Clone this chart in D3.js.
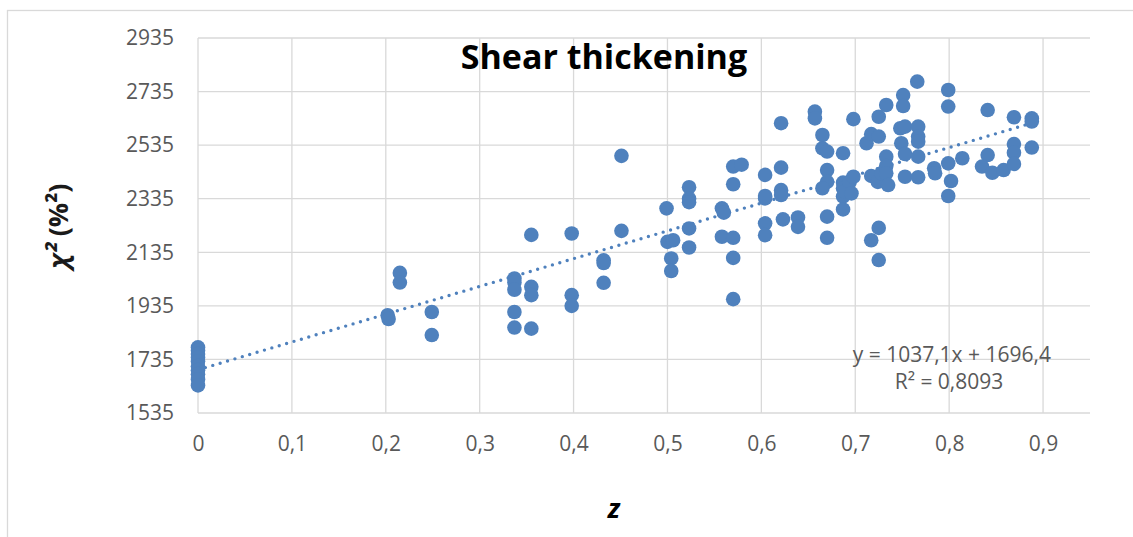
<!DOCTYPE html>
<html>
<head>
<meta charset="utf-8">
<script src="https://cdn.jsdelivr.net/npm/d3@7"></script>
<style>
  body { margin: 0; background: #fff; }
  text { font-family: "Open Sans", sans-serif; }
</style>
</head>
<body>
<div id="chart"></div>
<script>
// Shear thickening: chi2 versus z, with linear trendline

var zValues = [
  0, 0, 0, 0, 0, 0, 0, 0, 0, 0,
  0.202, 0.203, 0.215, 0.215, 0.249, 0.249,
  0.337, 0.337, 0.337, 0.337, 0.337,
  0.355, 0.355, 0.355, 0.355,
  0.398, 0.398, 0.398,
  0.432, 0.432, 0.432,
  0.451, 0.451,
  0.499, 0.500, 0.506, 0.504, 0.504,
  0.523, 0.523, 0.523, 0.523, 0.523,
  0.558, 0.560, 0.558,
  0.570, 0.570, 0.579, 0.570, 0.570, 0.570,
  0.604, 0.604, 0.604, 0.604, 0.604,
  0.621, 0.621, 0.621, 0.621, 0.623,
  0.639, 0.639,
  0.657, 0.657,
  0.665, 0.665, 0.670, 0.670, 0.670, 0.665, 0.670, 0.670,
  0.687, 0.687, 0.687, 0.687, 0.689, 0.687,
  0.694, 0.698, 0.696, 0.698,
  0.712, 0.717, 0.725, 0.725, 0.733,
  0.717, 0.724, 0.728,
  0.733, 0.733, 0.733, 0.735,
  0.717, 0.725, 0.725,
  0.751, 0.751, 0.766,
  0.748, 0.753, 0.767,
  0.749, 0.767, 0.767,
  0.753, 0.767,
  0.753, 0.767,
  0.799, 0.799,
  0.784, 0.785,
  0.799, 0.802, 0.799,
  0.814,
  0.841, 0.841, 0.835, 0.846,
  0.858,
  0.869, 0.869, 0.869, 0.869,
  0.888, 0.888, 0.888
]

var chiValues = [
  1780, 1768, 1755, 1742, 1728, 1710, 1695, 1680, 1660, 1638,
  1900, 1886, 2058, 2022, 1912, 1826,
  2037, 2022, 1995, 1912, 1854,
  2200, 2006, 1975, 1850,
  2205, 1975, 1935,
  2105, 2095, 2021,
  2495, 2215,
  2299, 2174, 2180, 2112, 2065,
  2378, 2335, 2322, 2224, 2153,
  2299, 2283, 2193,
  2189, 2455, 2462, 2389, 2114, 1960,
  2424, 2336, 2345, 2243, 2199,
  2617, 2451, 2367, 2349, 2258,
  2265, 2230,
  2660, 2635,
  2573, 2523, 2511, 2442, 2398, 2374, 2268, 2189,
  2505, 2395, 2374, 2343, 2361, 2295,
  2398, 2417, 2355, 2632,
  2542, 2576, 2641, 2567, 2685,
  2420, 2398, 2430,
  2492, 2457, 2430, 2386,
  2180, 2226, 2106,
  2722, 2681, 2772,
  2598, 2604, 2604,
  2542, 2567, 2548,
  2502, 2492,
  2417, 2415,
  2741, 2679,
  2449, 2430,
  2467, 2401, 2345,
  2486,
  2666, 2498, 2455, 2432,
  2442,
  2639, 2539, 2507, 2465,
  2635, 2623, 2526
]

var xTicks = [0, 0.1, 0.2, 0.3, 0.4, 0.5, 0.6, 0.7, 0.8, 0.9]
var yTicks = [1535, 1735, 1935, 2135, 2335, 2535, 2735, 2935]

// trendline from the chart: y = 1037,1x + 1696,4
var trendSlope = 1037.1
var trendIntercept = 1696.4
var trendR2 = 0.8093

var width = 1133, height = 537
var margin = {left: 198, right: 43, top: 38, bottom: 124}
var blue = "#4f81bd"
var grid = "#d9d9d9"
var grey = "#595959"

var locale = d3.formatLocale({decimal: ",", thousands: ".", grouping: [3], currency: ["", ""]})
var fmt = function(v) { return String(v).replace(".", ",") }

var svg = d3.select("#chart")
  .append("svg")
    .attr("width", width)
    .attr("height", height)

// chart border
svg.append("rect")
  .attr("x", 7.5).attr("y", 10.5)
  .attr("width", width + 20).attr("height", height + 20)
  .attr("fill", "#fff").attr("stroke", grid).attr("stroke-width", 1.3)

var x = d3.scaleLinear()
  .domain([0, 0.95])
  .range([margin.left, width - margin.right])

var y = d3.scaleLinear()
  .domain([1535, 2935])
  .range([height - margin.bottom, margin.top])

// horizontal gridlines
svg.append("g")
  .selectAll("line")
  .data(yTicks)
  .enter().append("line")
    .attr("x1", x(0)).attr("x2", x(0.95))
    .attr("y1", function(d) { return y(d) }).attr("y2", function(d) { return y(d) })
    .attr("stroke", grid).attr("stroke-width", 1.3)

// vertical gridlines
svg.append("g")
  .selectAll("line")
  .data(xTicks)
  .enter().append("line")
    .attr("x1", function(d) { return x(d) }).attr("x2", function(d) { return x(d) })
    .attr("y1", y(2935)).attr("y2", y(1535))
    .attr("stroke", grid).attr("stroke-width", 1.3)

// axes (labels only, lines are the gridlines)
var xAxis = svg.append("g")
  .attr("transform", "translate(0," + y(1535) + ")")
  .call(d3.axisBottom(x).tickValues(xTicks).tickSize(0).tickPadding(23)
    .tickFormat(function(d) { return d === 0 ? "0" : locale.format(".1f")(d) }))
xAxis.select(".domain").remove()
xAxis.selectAll("text")
  .style("font-family", "'Open Sans', sans-serif").style("font-size", "21px").attr("fill", grey)

var yAxis = svg.append("g")
  .attr("transform", "translate(" + x(0) + ",0)")
  .call(d3.axisLeft(y).tickValues(yTicks).tickSize(0).tickPadding(24).tickFormat(d3.format("d")))
yAxis.select(".domain").remove()
yAxis.selectAll("text")
  .style("font-family", "'Open Sans', sans-serif").style("font-size", "21px").attr("fill", grey)

// trendline
svg.append("line")
  .attr("x1", x(0)).attr("y1", y(trendIntercept))
  .attr("x2", x(d3.max(zValues))).attr("y2", y(trendIntercept + trendSlope * d3.max(zValues)))
  .attr("stroke", blue).attr("stroke-width", 3.4)
  .attr("stroke-linecap", "round").attr("stroke-dasharray", "0 7.7")

// points
svg.append("g")
  .selectAll("circle")
  .data(d3.range(zValues.length))
  .enter().append("circle")
    .attr("cx", function(i) { return x(zValues[i]) })
    .attr("cy", function(i) { return y(chiValues[i]) })
    .attr("r", 7.3)
    .style("fill", blue)

// title
svg.append("text")
  .attr("x", 604).attr("y", 69)
  .attr("text-anchor", "middle")
  .style("font-size", "34px").style("font-weight", "bold").attr("fill", "#000")
  .text("Shear thickening")

// axis titles
svg.append("text")
  .attr("x", 614).attr("y", 518)
  .attr("text-anchor", "middle")
  .style("font-size", "27px").style("font-weight", "bold").style("font-style", "italic")
  .text("z")

var yTitle = svg.append("text")
  .attr("transform", "translate(68,226) rotate(-90)")
  .attr("text-anchor", "middle")
  .style("font-size", "27px").style("font-weight", "bold").attr("fill", "#1a1a1a")
yTitle.append("tspan").style("font-style", "italic").text("χ²")
yTitle.append("tspan").text(" (%²)")

// trendline label
svg.append("text")
  .attr("x", 1051).attr("y", 362)
  .attr("text-anchor", "end")
  .style("font-size", "21px").attr("fill", grey)
  .text("y = " + fmt(trendSlope) + "x + " + fmt(trendIntercept))
svg.append("text")
  .attr("x", 949).attr("y", 389)
  .attr("text-anchor", "middle")
  .style("font-size", "21px").attr("fill", grey)
  .text("R² = " + fmt(trendR2))
</script>
</body>
</html>
